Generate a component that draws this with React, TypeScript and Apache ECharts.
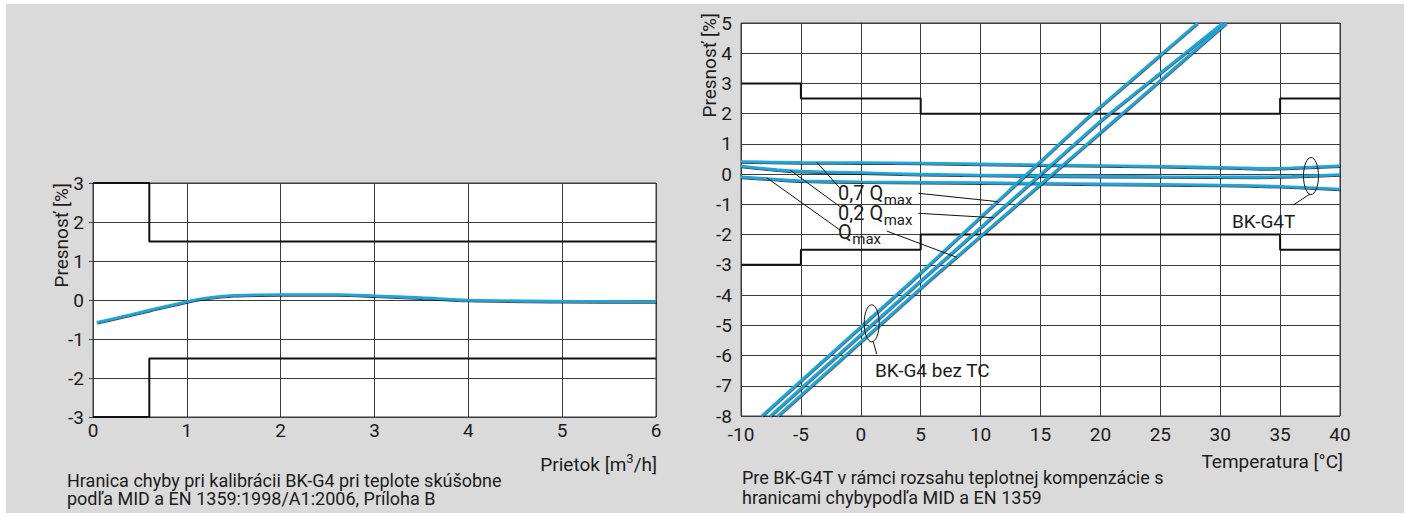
import React, { useEffect, useRef } from "react";
import * as echarts from "echarts";

// ---------- Data: left chart (flow) ----------
const flowUpperLimit = [[0, 3], [0.6, 3], [0.6, 1.5], [6, 1.5]];
const flowLowerLimit = [[0, -3], [0.6, -3], [0.6, -1.5], [6, -1.5]];
const flowError = [
  [0.04, -0.57], [0.3, -0.43], [0.6, -0.26], [1.0, -0.04], [1.2, 0.05], [1.5, 0.12],
  [2.0, 0.14], [2.6, 0.14], [3.0, 0.11], [3.5, 0.06], [4.0, 0.0], [5.0, -0.03], [6.0, -0.04],
];

// ---------- Data: right chart (temperature) ----------
const tempUpperLimit = [[-10, 3], [-5, 3], [-5, 2.5], [5, 2.5], [5, 2], [35, 2], [35, 2.5], [40, 2.5]];
const tempLowerLimit = [[-10, -3], [-5, -3], [-5, -2.5], [5, -2.5], [5, -2], [35, -2], [35, -2.5], [40, -2.5]];

// BK-G4T (with temperature compensation)
const g4t07 = [[-10, 0.42], [-5, 0.39], [0, 0.38], [5, 0.37], [15, 0.31], [25, 0.26], [31, 0.22], [34, 0.19], [36, 0.21], [40, 0.28]];
const g4t02 = [[-10, 0.27], [-7, 0.15], [-5, 0.1], [0, 0.05], [5, 0.0], [15, -0.05], [25, -0.08], [33, -0.09], [36, -0.07], [40, -0.01]];
const g4tQmax = [[-10, -0.09], [-7, -0.17], [-5, -0.22], [0, -0.25], [10, -0.28], [20, -0.32], [30, -0.36], [35, -0.4], [40, -0.49]];

// BK-G4 without TC
const g4noTc07 = [[-8.28, -8], [4.33, -3.5], [18.67, 1.78], [28.1, 5]];
const g4noTc02 = [[-7.58, -8], [5.06, -3.5], [20.06, 1.78], [30.2, 5]];
const g4noTcQmax = [[-6.94, -8], [5.75, -3.5], [21.17, 1.78], [30.5, 5]];

const qLabels = ["0,7 Q", "0,2 Q", "Q"];
const qSub = "max";

const FONT = "Roboto";
const BLUE = "#1aa6dc";
const GRIDC = "#3c3c3c";
const TXT = "#1c1c1c";

function measure(text: string, size: number) {
  const ctx = document.createElement("canvas").getContext("2d");
  if (!ctx) return text.length * size * 0.55;
  ctx.font = `${size}px ${FONT}`;
  return ctx.measureText(text).width;
}

function blueLine(data: number[][], xi: number, smooth: number | boolean = false) {
  return {
    type: "line",
    xAxisIndex: xi,
    yAxisIndex: xi,
    data,
    smooth,
    symbol: "none",
    silent: true,
    z: 4,
    lineStyle: {
      color: BLUE,
      width: 2.6,
      shadowColor: "rgba(0,0,0,0.75)",
      shadowBlur: 0,
      shadowOffsetX: 0.4,
      shadowOffsetY: 1,
    },
  };
}

function limitLine(data: number[][], xi: number) {
  return {
    type: "line",
    xAxisIndex: xi,
    yAxisIndex: xi,
    data,
    symbol: "none",
    silent: true,
    z: 3,
    lineStyle: { color: "#111", width: 2 },
  };
}

function axisCommon(labelMargin: number) {
  return {
    axisLine: { show: true, lineStyle: { color: GRIDC, width: 1 } },
    axisTick: { show: true, inside: false, length: 4, lineStyle: { color: GRIDC } },
    splitLine: { show: true, lineStyle: { color: GRIDC, width: 1 } },
    axisLabel: { fontFamily: FONT, fontSize: 19, color: TXT, margin: labelMargin },
  };
}

const txt = (text: string, x: number, y: number, extra: any = {}) => ({
  type: "text",
  x,
  y,
  z: 20,
  style: { text, fontFamily: FONT, fontSize: 18, lineHeight: 18, fill: TXT, verticalAlign: "middle", ...extra },
});

const seg = (x1: number, y1: number, x2: number, y2: number) => ({
  type: "line",
  z: 20,
  shape: { x1, y1, x2, y2 },
  style: { stroke: "#111", lineWidth: 1 },
});

export default function App() {
  const ref = useRef<HTMLDivElement>(null);
  useEffect(() => {
    if (!ref.current) return;
    const chart = echarts.init(ref.current, null, { renderer: "svg" });

    const qX = 838;
    const qY = [192.5, 212.5, 231.5];
    const qGraphics: any[] = [];
    qLabels.forEach((lab, i) => {
      const w = measure(lab, 20);
      qGraphics.push(txt(lab, qX, qY[i], { fontSize: 20, lineHeight: 16 }));
      qGraphics.push(txt(qSub, qX + w + 0.5, qY[i] + 7, { fontSize: 15, lineHeight: 10 }));
    });

    chart.setOption({
      animation: false,
      grid: [
        { left: 93, top: 183, width: 563, height: 234, show: true, backgroundColor: "#fff", borderColor: GRIDC, borderWidth: 1 },
        { left: 741, top: 23, width: 599, height: 393, show: true, backgroundColor: "#fff", borderColor: GRIDC, borderWidth: 1 },
      ],
      xAxis: [
        { type: "value", gridIndex: 0, min: 0, max: 6, interval: 1, ...axisCommon(4) },
        { type: "value", gridIndex: 1, min: -10, max: 40, interval: 5, ...axisCommon(9) },
      ],
      yAxis: [
        { type: "value", gridIndex: 0, min: -3, max: 3, interval: 1, ...axisCommon(9) },
        { type: "value", gridIndex: 1, min: -8, max: 5, interval: 1, ...axisCommon(9) },
      ],
      series: [
        limitLine(flowUpperLimit, 0),
        limitLine(flowLowerLimit, 0),
        blueLine(flowError, 0, 0.3),
        limitLine(tempUpperLimit, 1),
        limitLine(tempLowerLimit, 1),
        blueLine(g4t07, 1, 0.2),
        blueLine(g4t02, 1, 0.2),
        blueLine(g4tQmax, 1, 0.2),
        blueLine(g4noTc07, 1),
        blueLine(g4noTc02, 1),
        blueLine(g4noTcQmax, 1),
      ],
      graphic: [
        // axis names
        { ...txt("Presnosť [%]", 61, 183, { align: "right", fontSize: 19 }), rotation: Math.PI / 2 },
        { ...txt("Presnosť [%]", 709, 13, { align: "right", fontSize: 19 }), rotation: Math.PI / 2 },
        {
          type: "text", x: 657, y: 463, z: 20,
          style: {
            text: "{m|Prietok [m}{p|3}{m|/h]}", align: "right", verticalAlign: "middle",
            rich: {
              m: { fontFamily: FONT, fontSize: 19, lineHeight: 22, verticalAlign: "bottom", fill: TXT },
              p: { fontFamily: FONT, fontSize: 13, lineHeight: 12, verticalAlign: "top", fill: TXT },
            },
          },
        },
        txt("Temperatura [°C]", 1343, 461, { align: "right", fontSize: 19 }),
        // captions
        txt("Hranica chyby pri kalibrácii BK-G4 pri teplote skúšobne", 67, 480),
        txt("podľa MID a EN 1359:1998/A1:2006, Príloha B", 67, 498),
        txt("Pre BK-G4T v rámci rozsahu teplotnej kompenzácie s", 742, 477),
        txt("hranicami chybypodľa MID a EN 1359", 742, 497),
        // Q labels
        ...qGraphics,
        seg(816.7, 162.3, 840, 188.3),
        seg(790, 170, 840, 206.7),
        seg(766.7, 177.7, 840, 230),
        seg(918.3, 193.3, 998.3, 201.7),
        seg(918.3, 213.3, 993.3, 217.7),
        seg(886.7, 231, 956.7, 257.3),
        // BK-G4 bez TC
        { type: "ellipse", z: 20, shape: { cx: 871.7, cy: 323.3, rx: 7.5, ry: 18.5 }, style: { fill: "none", stroke: "#111", lineWidth: 1 } },
        seg(873.3, 342, 876.7, 354),
        txt("BK-G4 bez TC", 875, 370, { fontSize: 19 }),
        // BK-G4T
        { type: "ellipse", z: 20, shape: { cx: 1311, cy: 176, rx: 7.5, ry: 18.5 }, style: { fill: "none", stroke: "#111", lineWidth: 1 } },
        seg(1310, 194, 1293.3, 205),
        txt("BK-G4T", 1232, 221, { fontSize: 19 }),
      ],
    });
    return () => chart.dispose();
  }, []);
  return (
    <div style={{ position: "fixed", left: 0, top: 0, width: 1408, height: 517, background: "#fff" }}>
      <div style={{ position: "absolute", left: 6, top: 4, width: 1398, height: 509, background: "#dadada" }} />
      <div ref={ref} style={{ position: "absolute", left: 0, top: 0, width: 1408, height: 517 }} />
    </div>
  );
}
